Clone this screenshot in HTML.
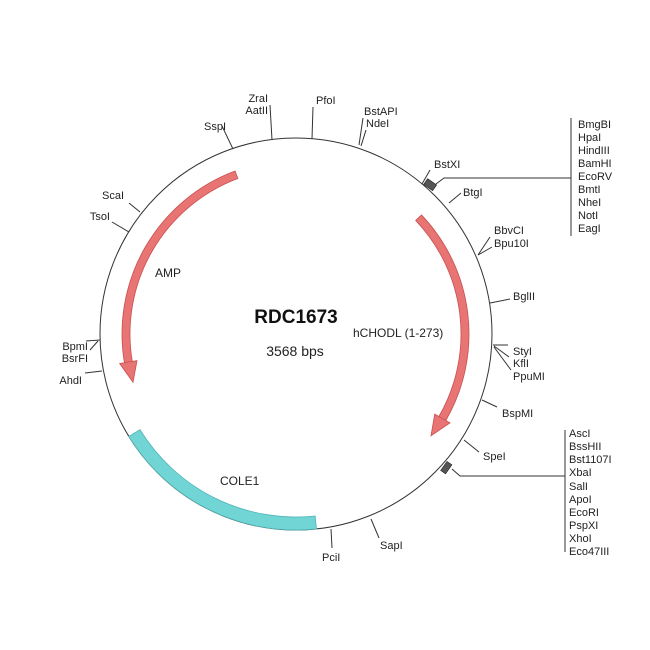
<!DOCTYPE html>
<html><head><meta charset="utf-8"><style>
html,body{margin:0;padding:0;background:#fff;}
svg{display:block;font-family:"Liberation Sans",Arial,sans-serif;}
text{font-size:11px;fill:#222;}
</style></head><body>
<svg id="s" width="650" height="650" viewBox="0 0 650 650" xmlns="http://www.w3.org/2000/svg">
<rect width="650" height="650" fill="#fff"/>
<circle cx="296" cy="334" r="196" fill="none" stroke="#333" stroke-width="1"/>
<g id="feat"></g>
<g stroke="#333" stroke-width="1" fill="none">
<line x1="312" y1="139" x2="313" y2="107"/>
<line x1="272" y1="140" x2="270" y2="105"/>
<line x1="233" y1="149" x2="222" y2="126"/>
<line x1="359" y1="145" x2="363" y2="118"/>
<line x1="361" y1="146" x2="366" y2="130"/>
<line x1="422" y1="184" x2="430" y2="170"/>
<polyline points="436,184 444,178 571,178"/>
<line x1="571" y1="118" x2="571" y2="236"/>
<line x1="449" y1="203" x2="461" y2="193"/>
<line x1="478" y1="255" x2="490" y2="237"/>
<line x1="478" y1="255" x2="492" y2="247"/>
<line x1="490" y1="303" x2="510" y2="299"/>
<line x1="493" y1="345" x2="508" y2="345"/>
<line x1="494" y1="346" x2="509" y2="357"/>
<line x1="494" y1="347" x2="511" y2="370"/>
<line x1="482" y1="400" x2="497" y2="407"/>
<line x1="464" y1="440" x2="479" y2="452"/>
<polyline points="452,469 460,476 565,476"/>
<line x1="565" y1="430" x2="565" y2="552"/>
<line x1="371" y1="519" x2="379" y2="538"/>
<line x1="331" y1="529" x2="332" y2="548"/>
<line x1="129" y1="203" x2="140" y2="212"/>
<line x1="112" y1="222" x2="129" y2="232"/>
<line x1="86" y1="341" x2="100" y2="340"/>
<line x1="90" y1="350" x2="98" y2="341"/>
<line x1="85" y1="373" x2="102" y2="371"/>
</g>
<g fill="#555" stroke="#222" stroke-width="0.6">
<rect x="425" y="181" width="11" height="7" transform="rotate(35 430 184)"/>
<rect x="441" y="465" width="11" height="6" transform="rotate(-55 446 468)"/>
</g>
<text x="316" y="104">PfoI</text>
<text x="268" y="102" text-anchor="end">ZraI</text>
<text x="268" y="114" text-anchor="end">AatII</text>
<text x="226" y="130" text-anchor="end">SspI</text>
<text x="364" y="115">BstAPI</text>
<text x="366" y="127">NdeI</text>
<text x="434" y="168">BstXI</text>
<text x="463" y="196">BtgI</text>
<text x="494" y="234">BbvCI</text>
<text x="494" y="247">Bpu10I</text>
<text x="513" y="300">BglII</text>
<text x="513" y="355">StyI</text>
<text x="513" y="367">KflI</text>
<text x="513" y="380">PpuMI</text>
<text x="502" y="417">BspMI</text>
<text x="483" y="460">SpeI</text>
<text x="380" y="549">SapI</text>
<text x="322" y="561">PciI</text>
<text x="124" y="199" text-anchor="end">ScaI</text>
<text x="110" y="220" text-anchor="end">TsoI</text>
<text x="88" y="350" text-anchor="end">BpmI</text>
<text x="88" y="362" text-anchor="end">BsrFI</text>
<text x="82" y="384" text-anchor="end">AhdI</text>
<g>
<text x="578" y="128">BmgBI</text><text x="578" y="141">HpaI</text><text x="578" y="154">HindIII</text>
<text x="578" y="167">BamHI</text><text x="578" y="180">EcoRV</text><text x="578" y="193">BmtI</text>
<text x="578" y="206">NheI</text><text x="578" y="219">NotI</text><text x="578" y="232">EagI</text>
</g>
<g>
<text x="569" y="437">AscI</text><text x="569" y="450">BssHII</text><text x="569" y="463">Bst1107I</text>
<text x="569" y="476">XbaI</text><text x="569" y="490">SalI</text><text x="569" y="503">ApoI</text>
<text x="569" y="516">EcoRI</text><text x="569" y="529">PspXI</text><text x="569" y="542">XhoI</text>
<text x="569" y="555">Eco47III</text>
</g>
<text x="296" y="323" text-anchor="middle" style="font-size:19px;font-weight:bold;fill:#111">RDC1673</text>
<text x="295" y="356" text-anchor="middle" style="font-size:14px">3568 bps</text>
<text x="353" y="337" style="font-size:12px">hCHODL (1-273)</text>
<text x="155" y="277" style="font-size:12px">AMP</text>
<text x="220" y="485" style="font-size:12px">COLE1</text>
</svg>
<script>
var cx=296,cy=334;
function P(r,a){a=a*Math.PI/180;return [cx+r*Math.sin(a),cy-r*Math.cos(a)];}
function arcBand(r1,r2,a1,a2){
 var p1=P(r2,a1),p2=P(r2,a2),p3=P(r1,a2),p4=P(r1,a1),l=(a2-a1)>180?1:0;
 return "M"+p1+" A"+r2+","+r2+" 0 "+l+" 1 "+p2+" L"+p3+" A"+r1+","+r1+" 0 "+l+" 0 "+p4+" Z";}
function arrow(r,w,a1,a2,head,cw){
 var h=w*1.1, d;
 if(cw){var b=arcBand(r-w/2,r+w/2,a1,a2-head);var q1=P(r+h,a2-head),q2=P(r,a2),q3=P(r-h,a2-head);
  d=b+" M"+P(r+w/2,a2-head)+" L"+q1+" L"+q2+" L"+q3+" L"+P(r-w/2,a2-head)+" Z";}
 else{var b=arcBand(r-w/2,r+w/2,a2+head,a1);var q1=P(r+h,a2+head),q2=P(r,a2),q3=P(r-h,a2+head);
  d=b+" M"+P(r+w/2,a2+head)+" L"+q1+" L"+q2+" L"+q3+" L"+P(r-w/2,a2+head)+" Z";}
 return d;}
var g=document.getElementById('feat'),ns="http://www.w3.org/2000/svg";
function add(d,f,s){var p=document.createElementNS(ns,'path');p.setAttribute('d',d);p.setAttribute('fill',f);p.setAttribute('stroke',s);p.setAttribute('stroke-width','0.8');g.appendChild(p);}
add(arcBand(183,196,174,238.5),"#72d5d5","#4fb5b5");
add(arrow(170,8,339.5,253.5,7,false),"#e87474","#c95050");
add(arrow(169,8,46.5,127,7,true),"#e87474","#c95050");
</script>
</body></html>
